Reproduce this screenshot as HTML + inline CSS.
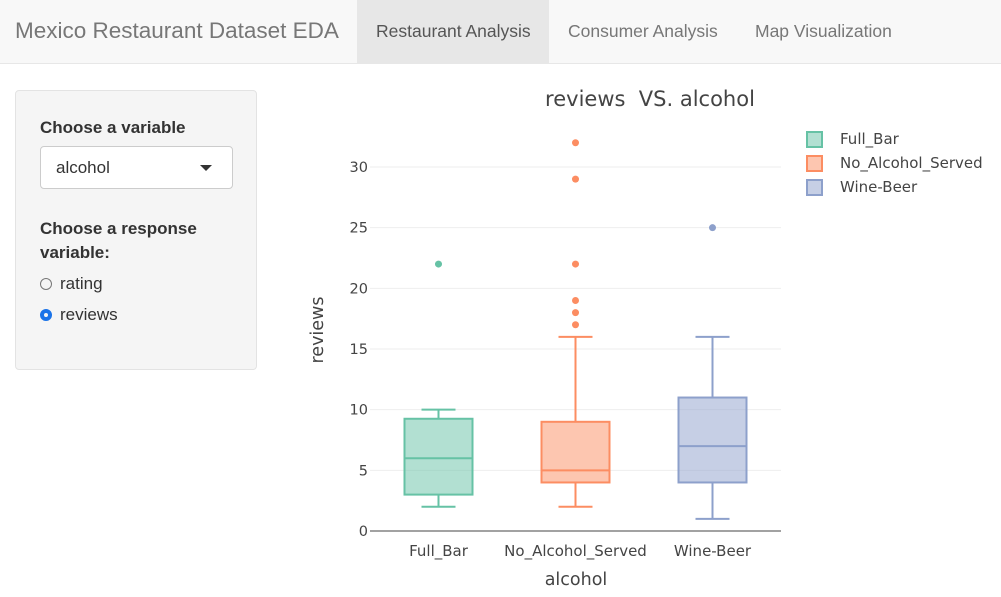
<!DOCTYPE html>
<html><head><meta charset="utf-8"><style>
body{margin:0;width:1001px;height:597px;overflow:hidden;background:#fff;font-family:"Liberation Sans",Arial,sans-serif;color:#333;position:relative}
.nav{position:absolute;left:0;top:0;width:1001px;height:64px;background:#f8f8f8;border-bottom:1px solid #e7e7e7;box-sizing:border-box}
.brand{position:absolute;left:15px;top:18px;font-size:22.5px;color:#777;white-space:nowrap}
.tab{position:absolute;top:0;height:63px;line-height:63px;font-size:17.5px;color:#777;padding:0 19px;white-space:nowrap}
.well{position:absolute;left:15px;top:90px;width:242px;height:280px;background:#f5f5f5;border:1px solid #e3e3e3;border-radius:4px;box-sizing:border-box}
.lbl{position:absolute;font-weight:bold;font-size:17px;color:#333}
.sel{position:absolute;left:24px;top:55px;width:193px;height:43px;background:#fff;border:1px solid #ccc;border-radius:4px;box-sizing:border-box;font-size:17px;line-height:41px;padding-left:15px}
.radio{position:absolute;left:24px;font-size:17px}
.radio span.c{display:inline-block;width:12px;height:12px;border:1px solid #777;border-radius:50%;vertical-align:-1px;margin-right:8px;box-sizing:border-box}
svg text{font-family:"DejaVu Sans",sans-serif}
</style></head><body>
<div class="nav">
<div class="brand">Mexico Restaurant Dataset EDA</div>
<div class="tab" style="left:357px;width:192px;box-sizing:border-box;background:#e7e7e7;color:#555;padding:0 0 0 19px">Restaurant Analysis</div>
<div class="tab" style="left:549px">Consumer Analysis</div>
<div class="tab" style="left:736px">Map Visualization</div>
</div>
<div class="well">
<div class="lbl" style="left:24px;top:27px">Choose a variable</div>
<div class="sel">alcohol<span style="position:absolute;right:20px;top:18px;border-left:6px solid transparent;border-right:6px solid transparent;border-top:6px solid #333"></span></div>
<div class="lbl" style="left:24px;top:126px;line-height:24px;width:200px">Choose a response variable:</div>
<div class="radio" style="top:183px"><span class="c"></span>rating</div>
<div class="radio" style="top:214px"><span class="c" style="border:4px solid #1a73e8;"></span>reviews</div>
</div>
<svg id="chart" width="1001" height="597" style="position:absolute;left:0;top:0"></svg>
<script>
const categories=["Full_Bar","No_Alcohol_Served","Wine-Beer"];
const colors=["#66c2a5","#fc8d62","#8da0cb"];
const lowWhisk=[2,2,1];
const q1=[3,4,4];
const medians=[6,5,7];
const q3=[9.25,9,11];
const highWhisk=[10,16,16];
const outliers=[[22],[17,18,19,22,29,32],[25]];
const yTicks=[0,5,10,15,20,25,30];
const svg=document.getElementById('chart');
const NS="http://www.w3.org/2000/svg";
const X0=370,X1=781,Y0=531,Y30=167;
const y=v=>Y0+(Y30-Y0)*v/30;
const band=(X1-X0)/categories.length;
const xc=i=>X0+band*(i+0.5);
function mk(t,a,txt){const e=document.createElementNS(NS,t);for(const k in a)e.setAttribute(k,a[k]);if(txt!==undefined)e.textContent=txt;svg.appendChild(e);return e;}
yTicks.forEach(v=>{
 if(v>0){const g=mk('line',{x1:X0,x2:X1,y1:y(v),y2:y(v),stroke:'#eee','stroke-width':1});
 
 }
 const t=mk('text',{x:X0-2,y:y(v)+5,'text-anchor':'end','font-size':14.5,fill:'#444'},v);
 
 
});
const ax=mk('line',{x1:X0,x2:X1,y1:Y0,y2:Y0,stroke:'#444','stroke-width':1});


const hw=34;
categories.forEach((c,i)=>{
 const cx=xc(i),col=colors[i];
 const w=mk('path',{d:`M${cx},${y(lowWhisk[i])}V${y(q1[i])}M${cx},${y(q3[i])}V${y(highWhisk[i])}M${cx-17},${y(lowWhisk[i])}H${cx+17}M${cx-17},${y(highWhisk[i])}H${cx+17}`,stroke:col,'stroke-width':2,fill:'none'});
 
 
 const b=mk('rect',{x:cx-hw,y:y(q3[i]),width:hw*2,height:y(q1[i])-y(q3[i]),fill:col,'fill-opacity':0.5,stroke:col,'stroke-width':2});
 
 
 const m=mk('line',{x1:cx-hw,x2:cx+hw,y1:y(medians[i]),y2:y(medians[i]),stroke:col,'stroke-width':2});
 
 
 outliers[i].forEach(o=>{const p=mk('circle',{cx:cx,cy:y(o),r:3.5,fill:col});
 
 });
 const t=mk('text',{x:cx,y:556,'text-anchor':'middle','font-size':15,fill:'#444'},c);
 
 
 const ly=139+i*24;
 const lr=mk('rect',{x:807,y:ly-7,width:15,height:15,fill:col,'fill-opacity':0.5,stroke:col,'stroke-width':2});
 
 
 const lt=mk('text',{x:840,y:ly+5,'font-size':15,fill:'#444'},c);
 
 
});
const title=mk('text',{x:650,y:106,'text-anchor':'middle','font-size':21,fill:'#444',style:'white-space:pre'},'reviews  VS. alcohol');


const xt=mk('text',{x:576,y:585,'text-anchor':'middle','font-size':17.5,fill:'#444'},'alcohol');


const yt=mk('text',{x:323,y:330,'text-anchor':'middle','font-size':17.5,fill:'#444',transform:'rotate(-90 323 330)'},'reviews');


</script>
</body></html>
